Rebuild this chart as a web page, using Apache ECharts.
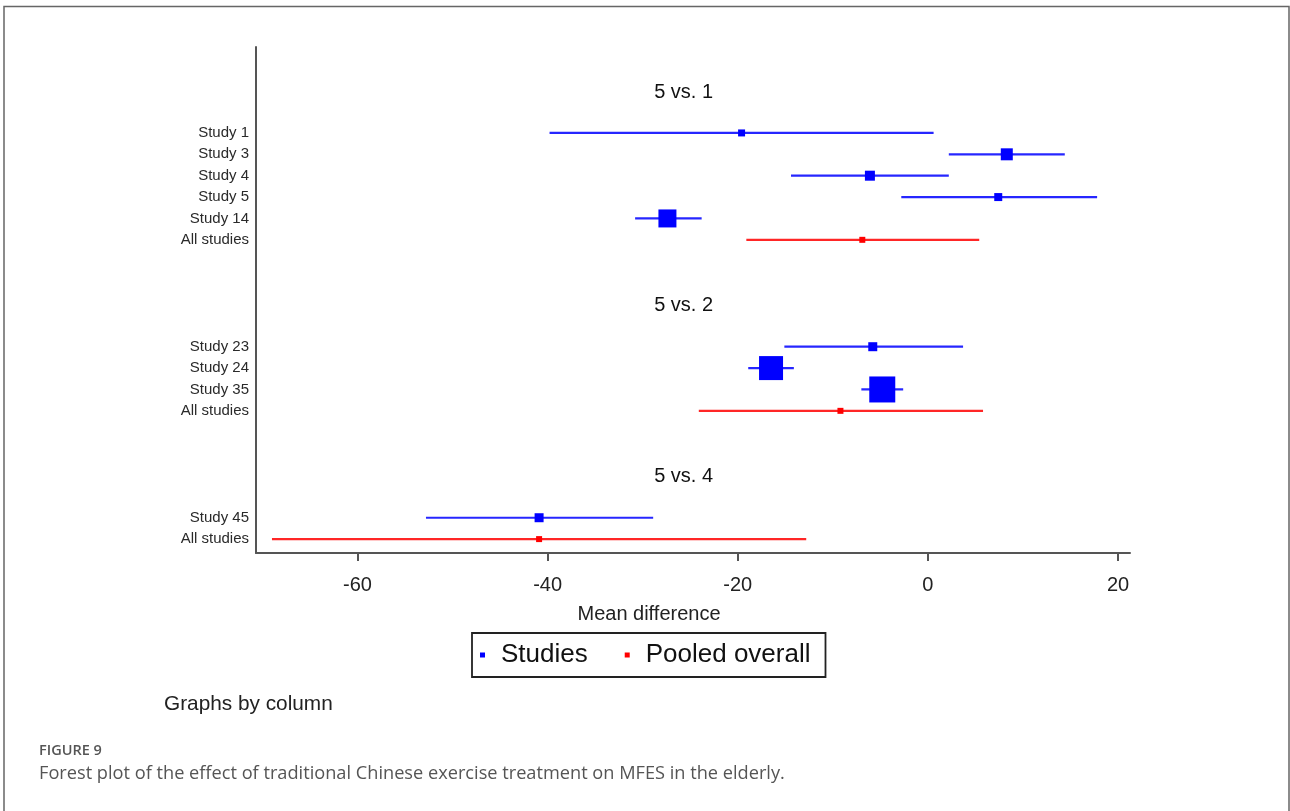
<!DOCTYPE html>
<html>
<head>
<meta charset="utf-8">
<title>Forest plot</title>
<script src="https://cdn.jsdelivr.net/npm/echarts@6/dist/echarts.min.js"></script>
<style>
  html, body { margin: 0; padding: 0; background: #fff; }
  #chart { width: 1290px; height: 811px; }
</style>
</head>
<body>
<div id="chart"></div>
<script>
// rows of the forest plot (row index counts down from the top)
const groupTitles = ['5 vs. 1', '5 vs. 2', '5 vs. 4']
const groupRows = [-2, 8, 16]

const rowLabels = ['Study 1', 'Study 3', 'Study 4', 'Study 5', 'Study 14', 'All studies',
  'Study 23', 'Study 24', 'Study 35', 'All studies',
  'Study 45', 'All studies']
const rowPos = [0, 1, 2, 3, 4, 5, 10, 11, 12, 13, 18, 19]
const pooled = [0, 0, 0, 0, 0, 1, 0, 0, 0, 1, 0, 1]

// mean difference with 95% CI
const estimate = [-19.6, 8.3, -6.1, 7.4, -27.4, -6.9, -5.8, -16.5, -4.8, -9.2, -40.9, -40.9]
const lower = [-39.8, 2.2, -14.4, -2.8, -30.8, -19.1, -15.1, -18.9, -7.0, -24.1, -52.8, -69.0]
const upper = [0.6, 14.4, 2.2, 17.8, -23.8, 5.4, 3.7, -14.1, -2.6, 5.8, -28.9, -12.8]
// study weight (box area), pooled rows use a fixed small marker
const weight = [49, 144, 100, 64, 324, 0, 81, 576, 676, 0, 81, 0]

const xTicks = [-60, -40, -20, 0, 20]

const chart = echarts.init(document.getElementById('chart'))

const BLUE = '#0000ff'
const RED = '#ff0000'
const FONT = 'Liberation Sans'

function pick(flag) {
  const out = []
  rowPos.forEach((r, i) => {
    if (pooled[i] === flag) out.push([estimate[i], r, weight[i]])
  })
  return out
}

function ciData(flag) {
  const out = []
  rowPos.forEach((r, i) => {
    if (pooled[i] === flag) out.push([lower[i], upper[i], r])
  })
  return out
}

function ciSeries(flag, color) {
  return {
    type: 'custom',
    silent: true,
    z: 2,
    data: ciData(flag),
    encode: { x: [0, 1], y: 2 },
    renderItem: (params, api) => {
      const p1 = api.coord([api.value(0), api.value(2)])
      const p2 = api.coord([api.value(1), api.value(2)])
      return {
        type: 'line',
        shape: { x1: p1[0], y1: p1[1], x2: p2[0], y2: p2[1] },
        style: { stroke: color, lineWidth: 2.2, opacity: 0.85 }
      }
    }
  }
}

const option = {
  animation: false,
  backgroundColor: '#fff',
  textStyle: { fontFamily: FONT },
  grid: { left: 256, right: 160, top: 47, bottom: 258 },
  xAxis: {
    type: 'value',
    min: -70.68,
    max: 21.26,
    name: 'Mean difference',
    nameLocation: 'middle',
    nameGap: 51,
    nameTextStyle: { fontSize: 20, color: '#222', fontFamily: FONT, padding: [0, 88, 0, 0] },
    axisLine: { onZero: false, lineStyle: { color: '#555', width: 2 } },
    axisTick: { show: true, length: 8, customValues: xTicks, lineStyle: { color: '#555', width: 2 } },
    axisLabel: { customValues: xTicks, fontSize: 20, color: '#222', margin: 22, fontFamily: FONT },
    splitLine: { show: false }
  },
  yAxis: {
    type: 'value',
    inverse: true,
    min: -4.02,
    max: 19.65,
    axisLine: { show: true, onZero: false, lineStyle: { color: '#555', width: 2 } },
    axisTick: { show: false },
    splitLine: { show: false },
    axisLabel: {
      customValues: rowPos,
      fontSize: 15,
      color: '#2a2a2a',
      margin: 7,
      padding: [3, 0, 0, 0],
      fontFamily: FONT,
      formatter: v => rowLabels[rowPos.indexOf(v)] || ''
    }
  },
  legend: {
    data: ['Studies', 'Pooled overall'],
    left: 472,
    top: 633,
    icon: 'rect',
    itemWidth: 5,
    itemHeight: 5,
    itemGap: 37,
    padding: [9, 15, 9, 8],
    borderColor: '#222',
    borderWidth: 1.8,
    borderRadius: 0,
    textStyle: { fontSize: 26, color: '#111', fontFamily: FONT, padding: [0, 0, 0, 11] }
  },
  series: [
    ciSeries(0, BLUE),
    ciSeries(1, RED),
    {
      name: 'Studies',
      type: 'scatter',
      z: 3,
      symbol: 'rect',
      symbolSize: d => Math.sqrt(d[2]),
      itemStyle: { color: BLUE, opacity: 1 },
      data: pick(0)
    },
    {
      name: 'Pooled overall',
      type: 'scatter',
      z: 3,
      symbol: 'rect',
      symbolSize: 6,
      itemStyle: { color: RED, opacity: 1 },
      data: pick(1)
    },
    {
      // group headings
      type: 'custom',
      silent: true,
      data: groupRows.map((r, i) => [i, r]),
      encode: { y: 1 },
      renderItem: (params, api) => {
        const p = api.coord([-25.7, api.value(1)])
        return {
          type: 'text',
          x: p[0],
          y: p[1] + 2,
          style: {
            text: groupTitles[api.value(0)],
            fontSize: 20,
            fontFamily: FONT,
            fill: '#111',
            align: 'center',
            verticalAlign: 'middle'
          }
        }
      }
    }
  ],
  graphic: [
    {
      type: 'rect',
      silent: true,
      shape: { x: 4, y: 6.5, width: 1285, height: 830 },
      style: { fill: 'none', stroke: '#666', lineWidth: 1.5 }
    },
    {
      type: 'text',
      left: 164,
      top: 694,
      style: { text: 'Graphs by column', fontSize: 20.8, fontFamily: FONT, fill: '#222' }
    },
    {
      type: 'text',
      left: 39,
      top: 743,
      style: { text: 'FIGURE 9', fontSize: 14.5, fontFamily: 'Open Sans', fontWeight: 600, fill: '#555' }
    },
    {
      type: 'text',
      left: 39,
      top: 765,
      style: {
        text: 'Forest plot of the effect of traditional Chinese exercise treatment on MFES in the elderly.',
        fontSize: 18.2,
        fontFamily: 'Open Sans',
        fill: '#555'
      }
    }
  ]
}

chart.setOption(option)
</script>
</body>
</html>
